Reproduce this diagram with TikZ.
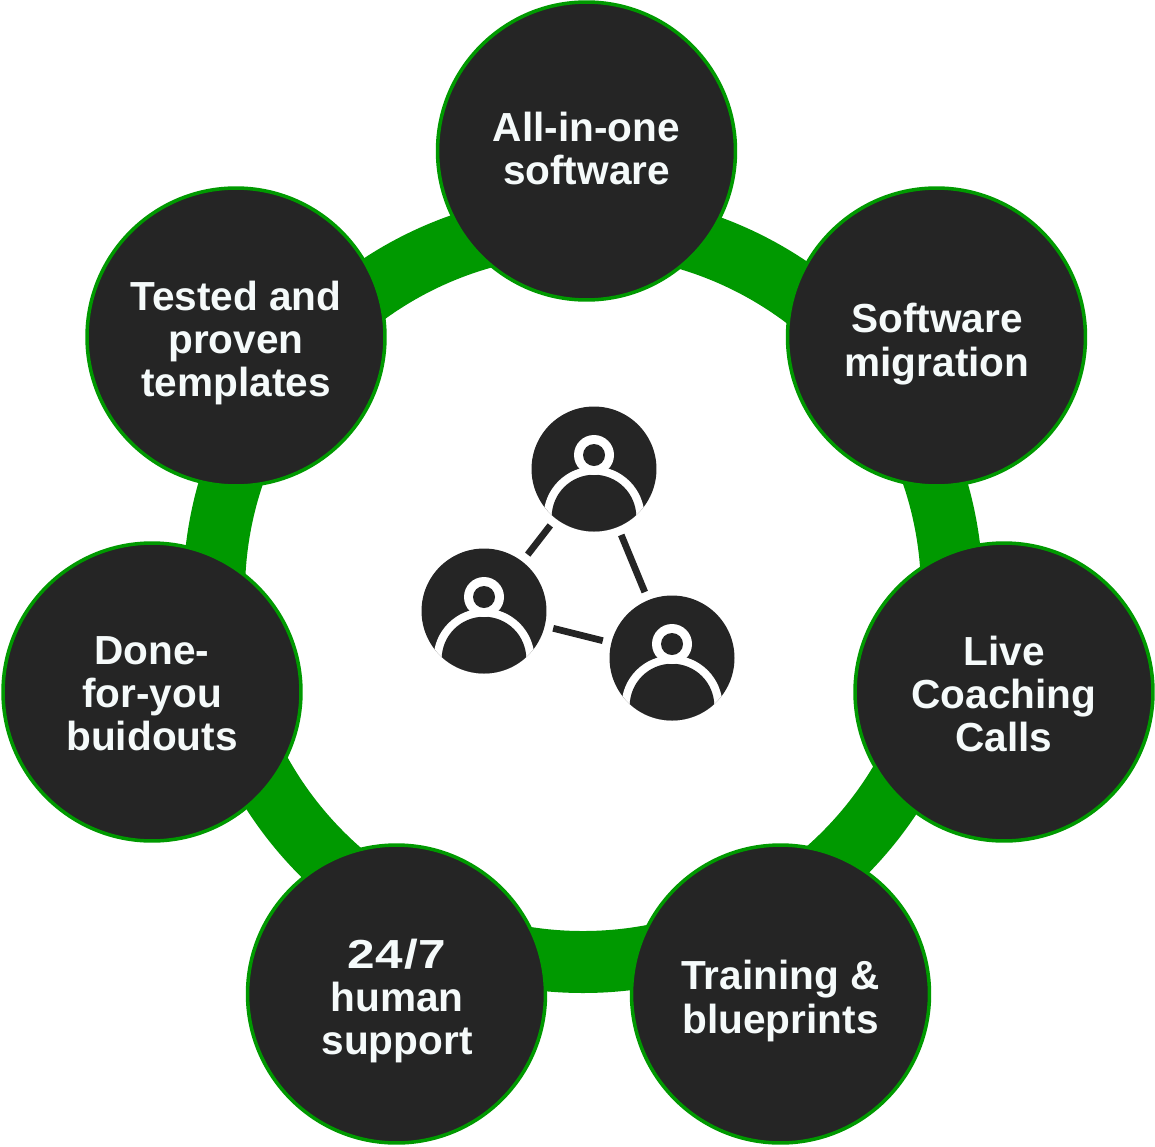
\documentclass[tikz,border=0pt]{standalone}
\usepackage{fontspec}
\setmainfont{Liberation Sans}
\definecolor{ringgreen}{HTML}{009900}
\definecolor{darkfill}{HTML}{252525}
\definecolor{labeltext}{HTML}{F5FAFA}

\begin{document}
\begin{tikzpicture}[
		x=0.02cm, y=-0.02cm,
		ring/.style={draw=ringgreen, line width=1.24cm},
		feature/.style={circle, draw=ringgreen, line width=2pt, fill=darkfill, minimum size=5.96cm, inner sep=0pt},
		featuretext/.style={inner sep=0pt, text=labeltext, align=center, font=\fontsize{23.1}{24.6}\selectfont\bfseries},
		person/.style={circle, fill=darkfill, minimum size=2.5cm, inner sep=0pt},
		link/.style={draw=darkfill, line width=0.135cm, shorten >=0.17cm, shorten <=0.17cm},
		]
		\useasboundingbox (0,0) rectangle (1155,1146);
		
		% Green ring behind the circles
		\draw[ring] (583,593) circle [radius=369];
		
		% Outer circles
		\node[feature] (allinone) at (586.5,151) {};
		\node[feature] (migration) at (936.5,337) {};
		\node[feature] (coaching) at (1004,692) {};
		\node[feature] (training) at (780.5,994) {};
		\node[feature] (support) at (396.5,994) {};
		\node[feature] (buildouts) at (152,692) {};
		\node[feature] (templates) at (236,337) {};
		
		% Their labels
		\node[featuretext] (allinonetext) at (586.5,148.5) {All-in-one\\software};
		\node[featuretext] (migrationtext) at (937,344) {Software\\migration};
		\node[featuretext] (coachingtext) at (1004,694) {Live\\Coaching\\Calls};
		\node[featuretext] (trainingtext) at (780.5,1001) {Training \&\\blueprints};
		\node[featuretext] (supporttext) at (397,1001) {{\addfontfeature{FakeStretch=1.22,LetterSpace=2}24/7}\\human\\support};
		\node[featuretext] (buildoutstext) at (152,694) {Done-\\for-you\\buidouts};
		\node[featuretext] (templatestext) at (236,343) {Tested and\\proven\\templates};
		
		% People in the middle
		\foreach \name/\px/\py in {persontop/594/469, personleft/484/611, personright/672/658} {
			\node[person] (\name) at (\px,\py) {};
			\begin{scope}
				\clip (\px,\py) circle [radius=62.5];
				\fill[white] (\px,\py+48) circle [radius=50.5];
				\fill[darkfill] (\px,\py+48) circle [radius=42.3];
				\fill[white] (\px,\py-14) circle [radius=20];
				\fill[darkfill] (\px,\py-14) circle [radius=11];
			\end{scope}
		}
		
		% Links between people
		\draw[link] (persontop) -- (personleft);
		\draw[link] (personleft) -- (personright);
		\draw[link] (personright) -- (persontop);
	\end{tikzpicture}
\end{document}
